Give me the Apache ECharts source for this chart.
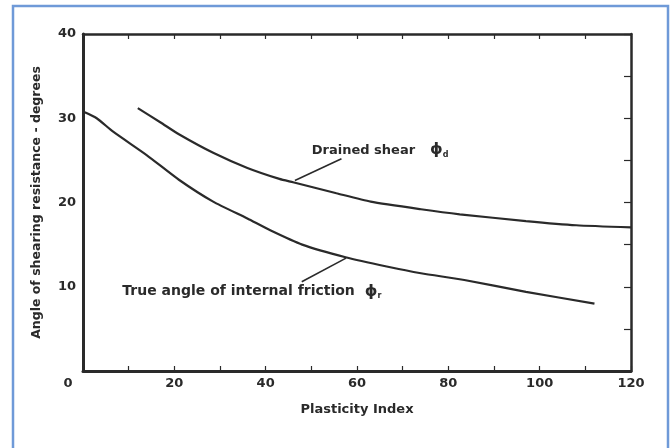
<!DOCTYPE html>
<html>
<head>
<meta charset="utf-8">
<script src="https://cdn.jsdelivr.net/npm/echarts@6/dist/echarts.min.js"></script>
<style>
  html, body { margin: 0; padding: 0; background: #fff; }
  #chart { width: 672px; height: 448px; }
</style>
</head>
<body>
<div id="chart"></div>
<script>
// Plasticity index (x) versus angle of shearing resistance (y, degrees)
const drainedPI  = [12, 17, 21, 28.5, 36, 43, 46, 55.5, 63, 74, 82.5, 97, 108, 120];
const drainedPhi = [31.2, 29.5, 28.1, 25.9, 24.1, 22.8, 22.4, 21.1, 20.1, 19.2, 18.6, 17.8, 17.3, 17.05];

const truePI  = [0.4, 3, 6.6, 14, 21, 28.5, 36, 41, 48, 57.5, 66.5, 74, 83.5, 97, 112];
const truePhi = [30.7, 30.0, 28.4, 25.6, 22.7, 20.1, 18.1, 16.7, 15.0, 13.5, 12.4, 11.6, 10.8, 9.4, 8.0];

// Callout text anchors and leader arrows, in data units
const drainedLabelAt = [50.1, 26.2];
const drainedArrow   = [[56.6, 25.2], [46.4, 22.6]];
const trueLabelAt    = [8.6, 9.4];
const trueArrow      = [[47.9, 10.6], [57.6, 13.4]];

const xTicks = [0, 20, 40, 60, 80, 100, 120];
const yTicks = [10, 20, 30, 40];

const ink = '#2a2a2a';
const font = 'DejaVu Sans';

function pairs(xs, ys) { return xs.map((x, i) => [x, ys[i]]); }

const chart = echarts.init(document.getElementById('chart'), null, { renderer: 'canvas' });

function richFor(size, gap) {
  return {
    t: { fontFamily: font, fontWeight: 'bold', fontSize: size, color: ink },
    p: { fontFamily: font, fontWeight: 'bold', fontSize: 16, color: ink, padding: [0, 0, 0, gap] },
    s: { fontFamily: font, fontWeight: 'bold', fontSize: 8, color: ink, padding: [9, 0, 0, 0] }
  };
}

chart.setOption({
  animation: false,
  backgroundColor: '#fff',
  graphic: [{
    type: 'rect',
    shape: { x: 13, y: 6, width: 655, height: 470 },
    style: { fill: 'none', stroke: '#6f9ad8', lineWidth: 2.5 },
    silent: true
  }],
  grid: { left: 83, right: 41, top: 34, bottom: 77 },
  xAxis: [{
    type: 'value', position: 'bottom', min: 0, max: 120, interval: 10,
    name: 'Plasticity Index', nameLocation: 'middle', nameGap: 32,
    nameTextStyle: { fontFamily: font, fontWeight: 'bold', fontSize: 13, color: ink },
    axisLine: { show: true, onZero: false, lineStyle: { color: ink, width: 3 } },
    axisTick: { show: true, inside: true, length: 5, lineStyle: { color: ink, width: 1.2 } },
    splitLine: { show: false },
    axisLabel: {
      margin: 6, color: ink, fontFamily: font, fontWeight: 'bold', fontSize: 13,
      showMinLabel: true, showMaxLabel: true,
      formatter: v => (xTicks.indexOf(v) < 0 ? '' : (v === 0 ? '{z|0}' : String(v))),
      rich: { z: { fontFamily: font, fontWeight: 'bold', fontSize: 13, color: ink, padding: [0, 30, 0, 0] } }
    }
  }, {
    type: 'value', position: 'top', min: 0, max: 120, interval: 10,
    axisLine: { show: true, onZero: false, lineStyle: { color: ink, width: 2.5 } },
    axisTick: { show: true, inside: true, length: 5, lineStyle: { color: ink, width: 1.2 } },
    axisLabel: { show: false }, splitLine: { show: false }
  }],
  yAxis: [{
    type: 'value', position: 'left', min: 0, max: 40, interval: 10,
    name: 'Angle of shearing resistance - degrees', nameLocation: 'middle', nameGap: 40,
    nameTextStyle: { fontFamily: font, fontWeight: 'bold', fontSize: 12.5, color: ink },
    axisLine: { show: true, onZero: false, lineStyle: { color: ink, width: 3 } },
    axisTick: { show: false },
    splitLine: { show: false },
    axisLabel: {
      margin: 7, color: ink, fontFamily: font, fontWeight: 'bold', fontSize: 13,
      formatter: v => (yTicks.indexOf(v) < 0 ? '' : String(v))
    }
  }, {
    type: 'value', position: 'right', min: 0, max: 40, interval: 5,
    axisLine: { show: true, onZero: false, lineStyle: { color: ink, width: 2.5 } },
    axisTick: { show: true, inside: true, length: 7, lineStyle: { color: ink, width: 1.2 } },
    axisLabel: { show: false }, splitLine: { show: false }
  }],
  series: [{
    name: 'Drained shear',
    type: 'line', xAxisIndex: 0, yAxisIndex: 0,
    data: pairs(drainedPI, drainedPhi),
    smooth: 0.2, showSymbol: false, symbol: 'none',
    lineStyle: { color: ink, width: 2.2 },
    markLine: {
      silent: true, symbol: ['none', 'arrow'], symbolSize: [0, 9],
      label: { show: false },
      lineStyle: { color: ink, width: 1.6, type: 'solid' },
      data: [[{ coord: drainedArrow[0] }, { coord: drainedArrow[1] }]]
    }
  }, {
    name: 'True angle of internal friction',
    type: 'line', xAxisIndex: 0, yAxisIndex: 0,
    data: pairs(truePI, truePhi),
    smooth: 0.2, showSymbol: false, symbol: 'none',
    lineStyle: { color: ink, width: 2.2 },
    markLine: {
      silent: true, symbol: ['none', 'arrow'], symbolSize: [0, 9],
      label: { show: false },
      lineStyle: { color: ink, width: 1.6, type: 'solid' },
      data: [[{ coord: trueArrow[0] }, { coord: trueArrow[1] }]]
    }
  }, {
    name: 'callouts',
    type: 'scatter', xAxisIndex: 0, yAxisIndex: 0,
    symbolSize: 0, itemStyle: { color: ink, opacity: 1 }, silent: true,
    data: [
      { value: drainedLabelAt, label: { formatter: '{t|Drained shear}   {p|\u03D5}{s|d}', rich: richFor(13, 5) } },
      { value: trueLabelAt, label: { formatter: '{t|True angle of internal friction}   {p|\u03D5}{s|r}', rich: richFor(14, 0) } }
    ],
    label: { show: true, position: 'right', distance: 0, color: ink }
  }]
});
</script>
</body>
</html>
